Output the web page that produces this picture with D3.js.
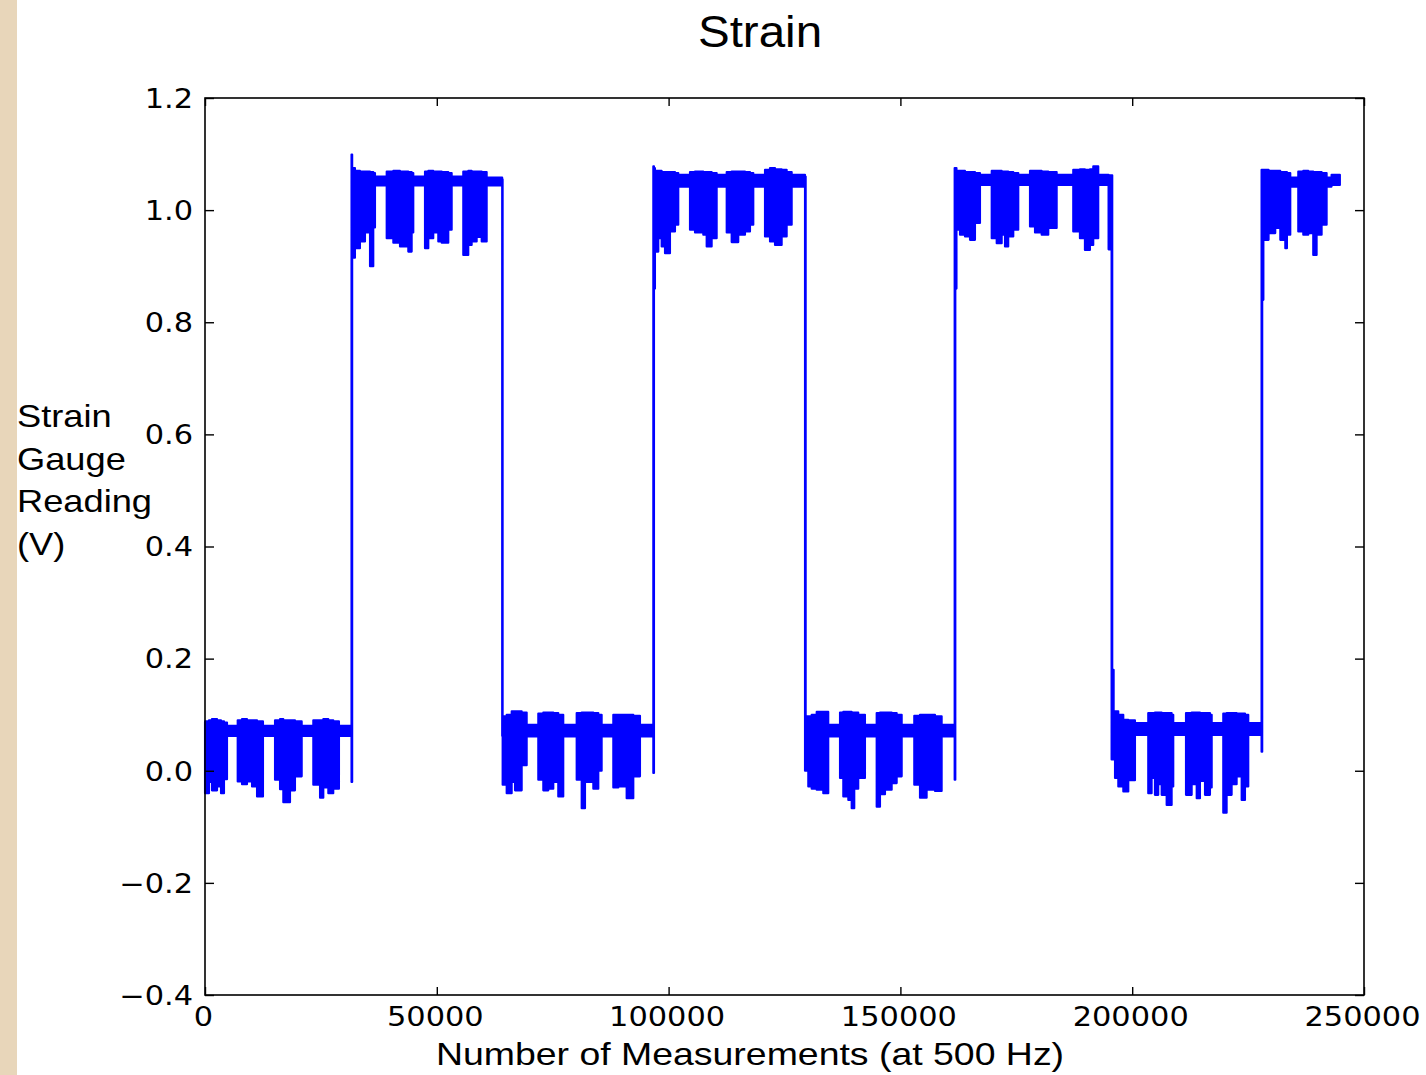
<!DOCTYPE html>
<html>
<head>
<meta charset="utf-8">
<script src="https://cdn.jsdelivr.net/npm/d3@7"></script>
<style>
  body { margin: 0; background: #fff; }
  svg { display: block; }
</style>
</head>
<body>
<svg id="chart"></svg>
<script>
// tick values
const xTicks = [0, 50000, 100000, 150000, 200000, 250000];
const yTicks = [-0.4, -0.2, 0.0, 0.2, 0.4, 0.6, 0.8, 1.0, 1.2];

// signal envelope read off the plot, one row per step: [measurement, low edge, high edge]
// low plateau 1
const lowRun1 = [
  [0, -0.04, 0.088], [860, -0.02, 0.09], [1500, -0.035, 0.092], [2600, -0.028, 0.09], [3450, -0.04, 0.088], [4100, -0.015, 0.086],
  [4750, 0.062, 0.08],
  [7050, -0.019, 0.09], [7980, -0.024, 0.092], [9060, -0.019, 0.09], [10140, -0.028, 0.09], [11220, -0.046, 0.088],
  [12510, 0.062, 0.08],
  [15100, -0.016, 0.09], [16180, -0.033, 0.092], [16890, -0.056, 0.09], [18340, -0.035, 0.09], [19410, -0.01, 0.088],
  [20860, 0.062, 0.08],
  [23360, -0.025, 0.09], [24810, -0.048, 0.09], [25520, -0.03, 0.092], [26600, -0.04, 0.09], [27670, -0.032, 0.088],
  [28900, 0.062, 0.08],
  [31600, -0.02, 1.099]
];
// high plateau 1
const highRun1 = [
  [31750, 0.915, 1.075], [32350, 0.932, 1.07], [33430, 0.944, 1.069], [34510, 0.96, 1.069], [35590, 0.9, 1.068], [36300, 0.969, 1.066],
  [36670, 1.044, 1.06],
  [39190, 0.95, 1.069], [40620, 0.942, 1.07], [42060, 0.935, 1.069], [43850, 0.926, 1.068], [44580, 0.96, 1.066],
  [44930, 1.044, 1.06],
  [47450, 0.932, 1.069], [48170, 0.95, 1.07], [49240, 0.96, 1.069], [50320, 0.944, 1.069], [51060, 0.942, 1.068], [52480, 0.965, 1.066],
  [53210, 1.044, 1.06],
  [55710, 0.92, 1.069], [56790, 0.938, 1.07], [57520, 0.944, 1.069], [58600, 0.952, 1.069], [59680, 0.944, 1.068],
  [60760, 1.044, 1.058],
  [64100, 0.062, 1.055]
];
// low plateau 2
const lowRun2 = [
  [64200, -0.025, 0.097], [65070, -0.04, 0.1], [66150, -0.02, 0.106], [66870, -0.035, 0.106], [68310, 0.01, 0.104],
  [69390, 0.061, 0.082],
  [71890, -0.016, 0.102], [72970, -0.035, 0.104], [74050, -0.032, 0.104], [75130, -0.02, 0.103], [76200, -0.046, 0.1],
  [77280, 0.061, 0.082],
  [80170, -0.016, 0.103], [81250, -0.067, 0.104], [81970, -0.02, 0.104], [83760, -0.032, 0.103], [84840, 0.0, 0.1],
  [85560, 0.061, 0.082],
  [88070, -0.03, 0.1], [89150, -0.028, 0.1], [90950, -0.049, 0.1], [92390, -0.01, 0.098],
  [93830, 0.061, 0.082],
  [96700, -0.004, 1.078]
];
// high plateau 2
const highRun2 = [
  [96850, 0.86, 1.075], [97060, 0.926, 1.07], [97780, 0.95, 1.07], [98500, 0.935, 1.068], [99220, 0.923, 1.068], [100300, 0.962, 1.068], [101380, 0.974, 1.066],
  [102090, 1.042, 1.063],
  [104610, 0.965, 1.068], [105690, 0.96, 1.069], [107480, 0.956, 1.068], [108210, 0.935, 1.068], [109290, 0.95, 1.066],
  [110370, 1.042, 1.063],
  [112530, 0.96, 1.068], [113600, 0.943, 1.069], [115030, 0.956, 1.069], [116480, 0.962, 1.068], [117560, 0.974, 1.066],
  [118270, 1.042, 1.063],
  [120790, 0.953, 1.072], [121870, 0.944, 1.075], [122950, 0.938, 1.073], [124390, 0.953, 1.072], [125470, 0.974, 1.068],
  [126550, 1.042, 1.063],
  [129420, 0.0, 1.06]
];
// low plateau 3
const lowRun3 = [
  [129570, 0.0, 0.097], [130130, -0.028, 0.097], [130860, -0.032, 0.1], [131940, -0.034, 0.105], [133360, -0.04, 0.105],
  [134440, 0.061, 0.082],
  [136970, -0.013, 0.104], [137680, -0.046, 0.105], [138760, -0.052, 0.105], [139490, -0.067, 0.104], [140050, -0.032, 0.104], [140910, -0.013, 0.1],
  [142360, 0.061, 0.082],
  [144880, -0.064, 0.103], [145600, -0.042, 0.104], [146680, -0.034, 0.104], [148120, -0.022, 0.103], [149200, -0.01, 0.1],
  [150280, 0.061, 0.082],
  [152990, -0.025, 0.098], [154220, -0.048, 0.1], [155660, -0.034, 0.1], [157460, -0.036, 0.097],
  [158900, 0.061, 0.082],
  [161700, -0.016, 1.075]
];
// high plateau 3
const highRun3 = [
  [161850, 0.86, 1.075], [162100, 0.965, 1.07], [162850, 0.956, 1.07], [163930, 0.953, 1.068], [165010, 0.947, 1.068], [166090, 0.977, 1.066],
  [167170, 1.045, 1.063],
  [169690, 0.95, 1.07], [170770, 0.941, 1.07], [171850, 0.956, 1.069], [172560, 0.935, 1.069], [173260, 0.953, 1.068], [174350, 0.965, 1.066],
  [175430, 1.045, 1.063],
  [177950, 0.971, 1.07], [179030, 0.96, 1.07], [180470, 0.956, 1.069], [181900, 0.968, 1.068],
  [183710, 1.045, 1.063],
  [187280, 0.962, 1.072], [188720, 0.95, 1.073], [189800, 0.929, 1.072], [190880, 0.938, 1.073], [191600, 0.95, 1.078],
  [192680, 1.045, 1.063],
  [194900, 0.93, 1.062], [195200, 1.045, 1.062],
  [195550, 0.02, 1.062]
];
// low plateau 4
const lowRun4 = [
  [195700, 0.02, 0.18], [196000, 0.02, 0.106], [196290, -0.013, 0.106], [197000, -0.028, 0.1], [198080, -0.037, 0.091], [199160, -0.017, 0.09],
  [200600, 0.064, 0.085],
  [203460, -0.04, 0.103], [204190, -0.013, 0.103], [204900, -0.043, 0.104], [205620, -0.024, 0.104], [206350, -0.043, 0.103], [207430, -0.061, 0.103], [208510, -0.028, 0.1],
  [208860, 0.064, 0.085],
  [211600, -0.043, 0.103], [212830, -0.024, 0.104], [213910, -0.049, 0.104], [214620, -0.018, 0.103], [215700, -0.043, 0.103], [216780, -0.03, 0.1],
  [217150, 0.064, 0.085],
  [219640, -0.075, 0.102], [220370, -0.043, 0.103], [221450, -0.024, 0.103], [222530, -0.01, 0.102], [223610, -0.052, 0.102], [224330, -0.028, 0.1],
  [225040, 0.064, 0.085],
  [227900, 0.034, 1.072]
];
// high plateau 4 (recording stops)
const highRun4 = [
  [228050, 0.84, 1.072], [228300, 0.947, 1.072], [229420, 0.959, 1.07], [230860, 0.968, 1.07], [231940, 0.947, 1.068], [233020, 0.932, 1.068], [233380, 0.956, 1.066],
  [234100, 1.042, 1.058],
  [235820, 0.962, 1.069], [236900, 0.956, 1.07], [237980, 0.959, 1.069], [239050, 0.92, 1.068], [239780, 0.956, 1.068], [240860, 0.974, 1.066],
  [241940, 1.042, 1.058],
  [243000, 1.045, 1.063],
  [244800, 1.045, 1.063]
];

const signal = [].concat(lowRun1, highRun1, lowRun2, highRun2, lowRun3, highRun3, lowRun4, highRun4);

const width = 1426, height = 1075;
const plotLeft = 205, plotRight = 1364, plotTop = 98, plotBottom = 995;
const stretch = 1.17; // the original picture is a bit wide, text too

const svg = d3.select("#chart")
  .attr("width", width)
  .attr("height", height);

svg.append("rect")
  .attr("x", 0).attr("y", 0)
  .attr("width", 17).attr("height", height)
  .attr("fill", "#e8d6ba");

const x = d3.scaleLinear().domain([0, 250000]).range([plotLeft, plotRight]);
const y = d3.scaleLinear().domain([-0.4, 1.2]).range([plotBottom, plotTop]);

// data
const area = d3.area()
  .x(d => x(d[0]))
  .y0(d => y(d[1]))
  .y1(d => y(d[2]))
  .curve(d3.curveStepAfter);

svg.append("path")
  .datum(signal)
  .attr("d", area)
  .attr("fill", "#0000ff")
  .attr("stroke", "#0000ff")
  .attr("stroke-width", 2.1)
  .attr("stroke-linejoin", "round");

// axes, ticks pointing inward like matplotlib
const tickFont = "'DejaVu Sans', sans-serif";

const gx = svg.append("g")
  .attr("transform", `translate(0,${plotBottom})`)
  .call(d3.axisBottom(x).tickValues(xTicks).tickSize(-8).tickFormat(d3.format("d")));
gx.selectAll("text")
  .attr("y", 31)
  .attr("dy", null)
  .attr("x", -2 / stretch)
  .attr("transform", `scale(${stretch},1)`);

const gy = svg.append("g")
  .attr("transform", `translate(${plotLeft},0)`)
  .call(d3.axisLeft(y).tickValues(yTicks).tickSize(-9).tickFormat(d3.format(".1f")));
gy.selectAll("text")
  .attr("x", -12 / stretch)
  .attr("dy", "0.36em")
  .attr("transform", `scale(${stretch},1)`);

svg.append("g")
  .attr("transform", `translate(0,${plotTop})`)
  .call(d3.axisTop(x).tickValues(xTicks).tickSize(-8).tickFormat(""));
svg.append("g")
  .attr("transform", `translate(${plotRight},0)`)
  .call(d3.axisRight(y).tickValues(yTicks).tickSize(-9).tickFormat(""));

svg.selectAll(".domain").remove();
svg.selectAll(".tick line").attr("stroke", "#000").attr("stroke-width", 1.4);
svg.selectAll(".tick text")
  .attr("fill", "#000")
  .style("font-family", tickFont)
  .style("font-size", "26px");

svg.append("rect")
  .attr("x", plotLeft).attr("y", plotTop)
  .attr("width", plotRight - plotLeft).attr("height", plotBottom - plotTop)
  .attr("fill", "none")
  .attr("stroke", "#000")
  .attr("stroke-width", 1.6);

// labels
const labelFont = "'Liberation Sans', Arial, sans-serif";

svg.append("text")
  .attr("transform", "translate(760,47) scale(1.08,1)")
  .attr("text-anchor", "middle")
  .style("font-family", labelFont)
  .style("font-size", "44px")
  .text("Strain");

svg.append("text")
  .attr("transform", `translate(750,1065) scale(${stretch},1)`)
  .attr("text-anchor", "middle")
  .style("font-family", labelFont)
  .style("font-size", "32px")
  .text("Number of Measurements (at 500 Hz)");

const yLabelLines = ["Strain", "Gauge", "Reading", "(V)"];
svg.append("g")
  .selectAll("text")
  .data(yLabelLines)
  .enter()
  .append("text")
  .attr("transform", (d, i) => `translate(17,${427 + i * 42.6}) scale(${stretch},1)`)
  .style("font-family", labelFont)
  .style("font-size", "31px")
  .text(d => d);
</script>
</body>
</html>
